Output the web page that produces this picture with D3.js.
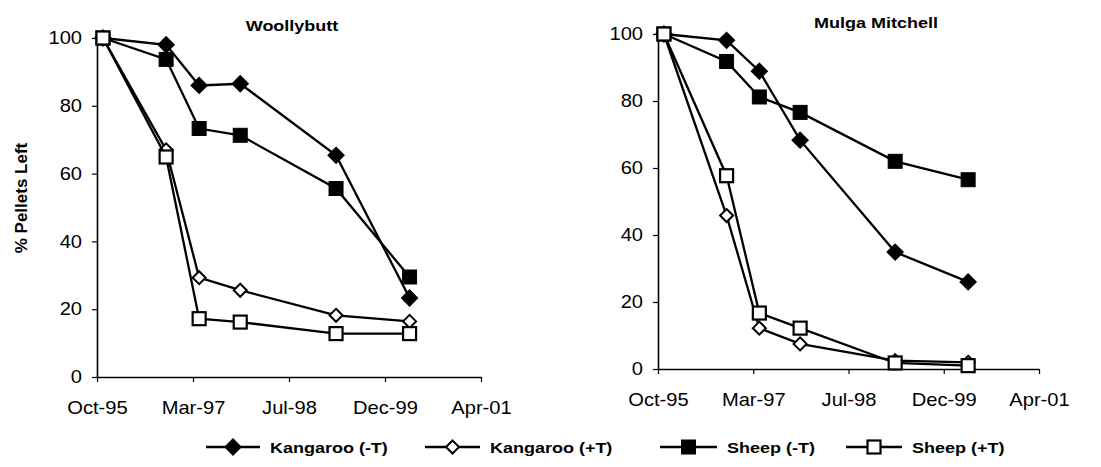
<!DOCTYPE html>
<html>
<head>
<meta charset="utf-8">
<script src="https://cdn.jsdelivr.net/npm/d3@7"></script>
<style>
  body { margin: 0; background: #fff; }
  svg text { font-family: "Liberation Sans", Arial, sans-serif; fill: #000; }
</style>
</head>
<body>
<div id="chart"></div>
<script>
// sampling dates (same for both sites)
const sampleDates = ["1995-11-28", "1996-10-22", "1997-04-12", "1997-11-12", "1999-03-26", "2000-04-12"];
// x axis ticks (Excel serials 35000..37000 step 500)
const xTickDates = ["1995-10-28", "1997-03-11", "1998-07-24", "1999-12-06", "2001-04-19"];
const yTicks = [0, 20, 40, 60, 80, 100];

const seriesNames = ["Kangaroo (-T)", "Kangaroo (+T)", "Sheep (-T)", "Sheep (+T)"];

// Woollybutt
const woollyKangNoT = [100, 98, 86, 86.5, 65.4, 23.3];
const woollyKangT = [100, 67, 29.3, 25.6, 18.2, 16.4];
const woollySheepNoT = [100, 93.7, 73.3, 71.3, 55.6, 29.5];
const woollySheepT = [100, 64.9, 17.2, 16.2, 12.8, 12.8];

// Mulga Mitchell
const mulgaKangNoT = [100, 98.1, 88.9, 68.3, 34.9, 26];
const mulgaKangT = [100, 45.8, 12.2, 7.5, 2.5, 2];
const mulgaSheepNoT = [100, 91.8, 81.2, 76.6, 62, 56.5];
const mulgaSheepT = [100, 57.7, 16.7, 12.2, 1.8, 1];

const parse = d3.utcParse("%Y-%m-%d");
const fmt = d3.utcFormat("%b-%y");
const SX = 1.2;      // horizontal stretch of the scanned text
const SX_TICK = 1.15;

const markers = [
  { shape: "diamond", fill: "#000" },
  { shape: "diamond", fill: "#fff" },
  { shape: "square", fill: "#000" },
  { shape: "square", fill: "#fff" }
];

const panels = [
  { title: "Woollybutt", titleX: 292, titleY: 31, x0: 97, x1: 481, yTop: 38, yBot: 377,
    series: [woollyKangNoT, woollyKangT, woollySheepNoT, woollySheepT] },
  { title: "Mulga Mitchell", titleX: 876, titleY: 28, x0: 658, x1: 1039, yTop: 34, yBot: 369,
    series: [mulgaKangNoT, mulgaKangT, mulgaSheepNoT, mulgaSheepT] }
];

const svg = d3.select("#chart").append("svg")
  .attr("width", 1101)
  .attr("height", 467);

function drawMarker(g, m, cx, cy) {
  if (m.shape === "diamond") {
    const r = m.fill === "#000" ? 7.5 : 6.5;
    g.append("path")
      .attr("d", `M${cx},${cy - r}L${cx + r},${cy}L${cx},${cy + r}L${cx - r},${cy}Z`)
      .attr("fill", m.fill)
      .attr("stroke", "#000")
      .attr("stroke-width", 2);
  } else {
    const s = m.fill === "#000" ? 14 : 13;
    g.append("rect")
      .attr("x", cx - s / 2).attr("y", cy - s / 2)
      .attr("width", s).attr("height", s)
      .attr("fill", m.fill)
      .attr("stroke", "#000")
      .attr("stroke-width", m.fill === "#000" ? 1 : 2.2);
  }
}

panels.forEach(p => {
  const x = d3.scaleUtc()
    .domain([parse(xTickDates[0]), parse(xTickDates[xTickDates.length - 1])])
    .range([p.x0, p.x1]);
  const y = d3.scaleLinear().domain([0, 100]).range([p.yBot, p.yTop]);

  // x axis
  const xg = svg.append("g")
    .attr("transform", `translate(0,${p.yBot})`)
    .call(d3.axisBottom(x)
      .tickValues(xTickDates.map(parse))
      .tickFormat(fmt)
      .tickSize(5)
      .tickSizeOuter(0)
      .tickPadding(20));
  xg.select(".domain").attr("stroke-width", 1.6);
  xg.selectAll(".tick line").attr("stroke-width", 1.2);
  xg.selectAll("text")
    .style("font-size", "17.5px")
    .attr("transform", `scale(${SX_TICK},1)`);

  // y axis
  const yg = svg.append("g")
    .attr("transform", `translate(${p.x0},0)`)
    .call(d3.axisLeft(y)
      .tickValues(yTicks)
      .tickSize(5)
      .tickSizeOuter(0)
      .tickPadding(8));
  yg.select(".domain").attr("stroke-width", 1.6);
  yg.selectAll(".tick line").attr("stroke-width", 1.2);
  yg.selectAll("text")
    .style("font-size", "17.5px")
    .attr("transform", `scale(${SX_TICK},1)`);

  // title
  svg.append("text")
    .attr("transform", `translate(${p.titleX},${p.titleY}) scale(${SX},1)`)
    .attr("text-anchor", "middle")
    .style("font-size", "15px")
    .style("font-weight", "bold")
    .text(p.title);

  const line = d3.line()
    .x((d, i) => x(parse(sampleDates[i])))
    .y(d => y(d));

  p.series.forEach((vals, si) => {
    const g = svg.append("g");
    g.append("path")
      .attr("d", line(vals))
      .attr("fill", "none")
      .attr("stroke", "#000")
      .attr("stroke-width", 2.3);
    vals.forEach((v, i) => drawMarker(g, markers[si], x(parse(sampleDates[i])), y(v)));
  });
});

// y axis label (left panel only)
svg.append("text")
  .attr("transform", "translate(27,198) rotate(-90)")
  .attr("text-anchor", "middle")
  .style("font-size", "17px")
  .style("font-weight", "bold")
  .text("% Pellets Left");

// legend
const legendItems = [
  { x1: 206, x2: 260, text: 270 },
  { x1: 425, x2: 480, text: 490 },
  { x1: 660, x2: 717, text: 727 },
  { x1: 846, x2: 902, text: 912 }
];
const legendY = 447;
legendItems.forEach((it, i) => {
  const g = svg.append("g");
  g.append("line")
    .attr("x1", it.x1).attr("x2", it.x2)
    .attr("y1", legendY).attr("y2", legendY)
    .attr("stroke", "#000").attr("stroke-width", 2.3);
  drawMarker(g, markers[i], (it.x1 + it.x2) / 2, legendY);
  g.append("text")
    .attr("transform", `translate(${it.text},${legendY + 5.5}) scale(${SX},1)`)
    .style("font-size", "15px")
    .style("font-weight", "bold")
    .text(seriesNames[i]);
});
</script>
</body>
</html>
